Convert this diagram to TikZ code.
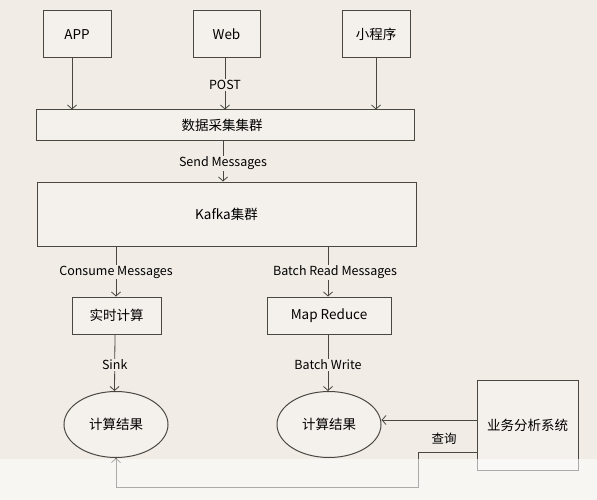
\documentclass[tikz,border=0pt]{standalone}
\usepackage{fontspec}
\setmainfont{Noto Sans CJK SC}
\usetikzlibrary{arrows.meta,shapes.geometric}
\definecolor{bg}{HTML}{F1ECE6}
\definecolor{boxfill}{HTML}{F4F1EC}
\definecolor{ln}{HTML}{4A4642}
\begin{document}
\begin{tikzpicture}[x=1pt,y=-1pt,
  box/.style={draw=ln, line width=1pt, fill=boxfill, inner sep=0pt, font=\fontsize{13.5}{15}\selectfont, text=black},
  ell/.style={ellipse, draw=ln, line width=1pt, fill=boxfill, inner sep=0pt, minimum width=104pt, minimum height=66pt, font=\fontsize{13.5}{15}\selectfont, text=black},
  arr/.style={draw=ln, line width=0.8pt, -{Straight Barb[length=4pt,width=9pt]}},
  lbl/.style={fill=bg, inner sep=1pt, font=\fontsize{12.5}{14}\selectfont, text=black}]
\fill[bg] (0,0) rectangle (597,500);
\useasboundingbox (0,0) rectangle (597,500);
% top sources
\node[box, minimum width=68pt, minimum height=47pt] (app) at (77,34.5) {APP};
\node[box, minimum width=67pt, minimum height=47pt] (web) at (226.5,34.5) {Web};
\node[box, minimum width=68pt, minimum height=47pt] (mini) at (376,34.5) {小程序};
% collector
\node[box, minimum width=378pt, minimum height=31pt] (coll) at (225,125.5) {\hspace*{-6pt}数据采集集群};
% kafka
\node[box, minimum width=379pt, minimum height=64pt] (kafka) at (226.5,214) {Kafka集群};
% processing
\node[box, minimum width=89pt, minimum height=37pt] (rt) at (116.5,315.5) {实时计算};
\node[box, minimum width=124pt, minimum height=37pt] (mr) at (329,315.5) {Map Reduce};
% results
\node[ell] (res1) at (116,424.5) {计算结果};
\node[ell] (res2) at (329,424.5) {计算结果};
% analysis
\node[box, minimum width=101pt, minimum height=90pt] (ana) at (527.5,425) {业务分析系统};
% arrows
\draw[arr] ([xshift=-5pt]app.south) -- ([xshift=-5pt]app.south |- coll.north);
\draw[arr] ([xshift=-1.5pt]web.south) -- ([xshift=-1.5pt]web.south |- coll.north) node[lbl, midway, yshift=-1pt] {POST};
\draw[arr] (mini.south) -- (mini.south |- coll.north);
\draw[arr] ([xshift=-2pt]coll.south) -- ([xshift=-2pt]coll.south |- kafka.north) node[lbl, midway, yshift=-2pt] {Send Messages};
\coordinate (k1) at (116,246);
\coordinate (k2) at (328,246);
\draw[arr] (k1) -- (k1 |- rt.north) node[lbl, midway, yshift=-1pt] {Consume Messages};
\draw[arr] (k2) -- (k2 |- mr.north) node[lbl, midway, yshift=-1pt, xshift=7pt] {Batch Read Messages};
\draw[arr] ([xshift=-1.5pt]rt.south) -- ([xshift=-1.5pt]res1.north) node[lbl, midway, yshift=-2pt] {Sink};
\draw[arr] ([xshift=-1pt]mr.south) -- ([xshift=-1pt]mr.south |- res2.north) node[lbl, midway, yshift=-2pt] {Batch Write};
\coordinate (q1) at (ana.west |- 0,452);
\coordinate (q2) at (418,452);
\coordinate (q3) at (418,487);
\coordinate (q4) at (116,487);
\draw[arr] (ana.west |- 0,420) -- (res2.east |- 0,420);
\node[font=\fontsize{12.5}{14}\selectfont, text=black] (qlbl) at (444,439) {查询};
\draw[arr] (q1) -- (q2) -- (q3) -- (q4) -- (res1.south);
% lighter bottom band
\fill[white, opacity=0.55] (0,459) rectangle (597,500);
\end{tikzpicture}
\end{document}
